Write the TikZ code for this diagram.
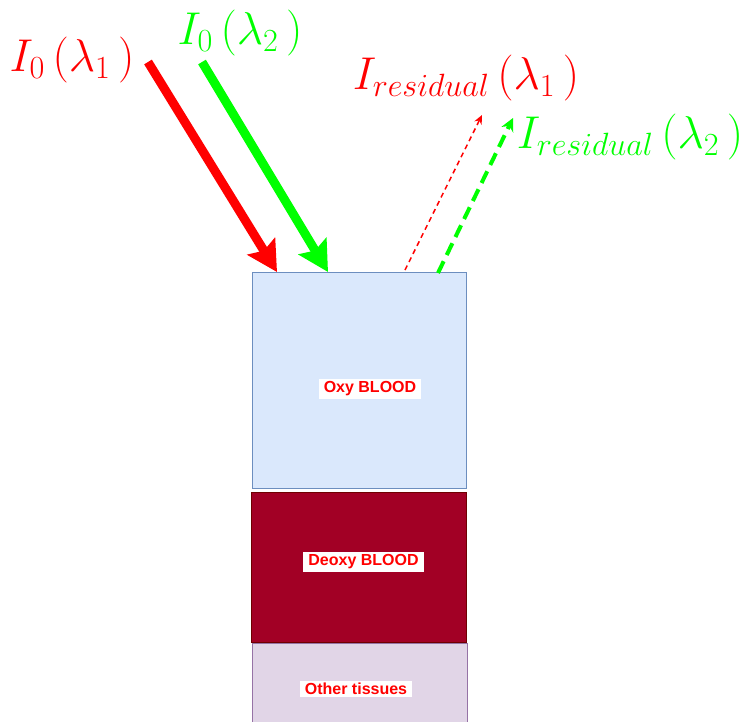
\documentclass[tikz,border=0pt]{standalone}
\usepackage{fix-cm}
\usepackage{amsmath}
\usepackage{fontspec}
\setsansfont{Liberation Sans}
\usetikzlibrary{arrows.meta}
\definecolor{oxyfill}{HTML}{DAE8FC}
\definecolor{oxyline}{HTML}{6C8EBF}
\definecolor{deoxyfill}{HTML}{A20025}
\definecolor{deoxyline}{HTML}{6F0000}
\definecolor{tissuefill}{HTML}{E1D5E7}
\definecolor{tissueline}{HTML}{9673A6}
\definecolor{lime}{HTML}{00FF00}

\begin{document}
\begin{tikzpicture}[x=1pt,y=-1pt,>=Stealth,
    layer/.style={draw,line width=0.8pt,inner sep=0pt},
    tag/.style={fill=white,text=red,inner xsep=5pt,inner ysep=2.5pt,
        font=\sffamily\bfseries\fontsize{16}{19}\selectfont},
    formula/.style={inner sep=0pt,font=\fontsize{46}{55}\selectfont},
    beam/.style={line width=9pt,-{Stealth[length=30pt,width=32pt,inset=5pt]}}]
    \useasboundingbox (0,0) rectangle (749,721);
    % tissue layers
    \node[layer,draw=oxyline,fill=oxyfill,minimum width=214pt,minimum height=216pt] (oxy) at (359,380) {};
    \node[layer,draw=deoxyline,fill=deoxyfill,minimum width=215pt,minimum height=150pt] (deoxy) at (358.5,567) {};
    \node[layer,draw=tissueline,fill=tissuefill,minimum width=215pt,minimum height=90pt] (tissue) at (359.5,688) {};
    \node[tag] (oxytag) at (370,389) {Oxy BLOOD};
    \node[tag] (deoxytag) at (363.5,562) {Deoxy BLOOD};
    \node[tag] (tissuetag) at (356,689) {Other tissues};
    % light in and out
    \node[formula,text=red] (inred) at (72,60) {$I_0\,(\lambda_1\,)$};
    \node[formula,text=lime] (ingreen) at (240,33) {$I_0\,(\lambda_2\,)$};
    \node[formula,text=red] (outred) at (466,78) {$I_{residual}\,(\lambda_1\,)$};
    \node[formula,text=lime] (outgreen) at (630,137) {$I_{residual}\,(\lambda_2\,)$};
    \coordinate (redstart) at (148,62);
    \coordinate (greenstart) at (202,62);
    \coordinate (redhit) at (277,272);
    \coordinate (greenhit) at (328,272);
    \coordinate (redexit) at (405,270);
    \coordinate (greenexit) at (438,273);
    \coordinate (redend) at (482,115);
    \coordinate (greenend) at (513,118);
    \draw[beam,red] (redstart) -- (redhit);
    \draw[beam,lime] (greenstart) -- (greenhit);
    \draw[red,line width=1.5pt,dash pattern=on 5pt off 4pt,-{Stealth[length=9pt,width=8pt]}] (redexit) -- (redend);
    \draw[lime,line width=4pt,dash pattern=on 13pt off 7pt,-{Stealth[length=13pt,width=13pt]}] (greenexit) -- (greenend);
\end{tikzpicture}
\end{document}
